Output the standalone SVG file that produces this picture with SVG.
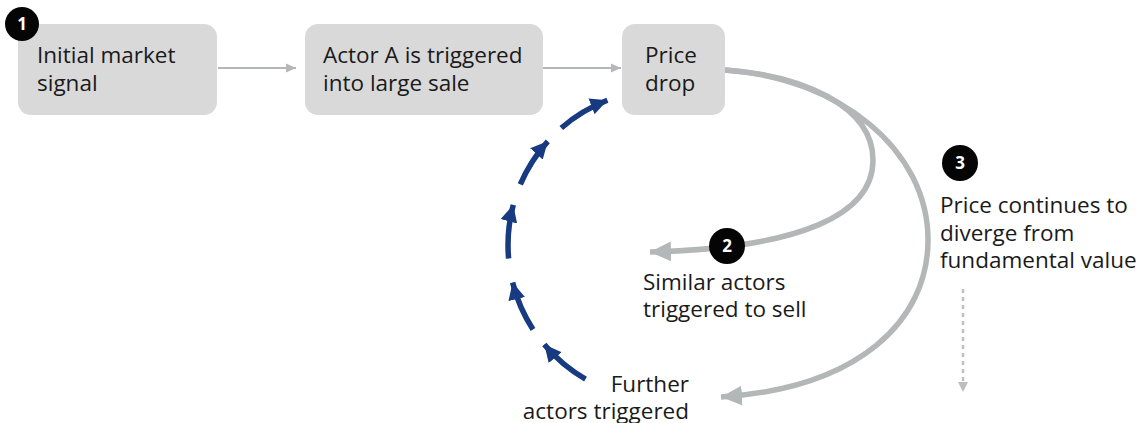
<svg xmlns="http://www.w3.org/2000/svg" width="1140" height="423" viewBox="0 0 1140 423">
<defs>
<style>
.box{fill:#d9d9d9;}
.t{font-family:"Open Sans","Noto Sans","Liberation Sans",sans-serif;font-size:22.5px;fill:#1a1a1a;}
.badge{fill:#050505;}
.bt{font-family:"Open Sans","Noto Sans","Liberation Sans",sans-serif;font-size:17px;font-weight:700;fill:#ffffff;text-anchor:middle;}
.thin{fill:none;stroke:#b4b7b7;stroke-width:2;}
.thick{fill:none;stroke:#b4b7b7;stroke-width:5.5;}
.blue{fill:none;stroke:#173a80;stroke-width:5.5;}
.dot{fill:none;stroke:#bcbfbf;stroke-width:2.5;stroke-dasharray:4 4;}
</style>
<marker id="ah-thin" markerUnits="userSpaceOnUse" markerWidth="12" markerHeight="12" refX="10" refY="6" orient="auto"><path d="M0,1.5 L10,6 L0,10.5 Z" fill="#b4b7b7"/></marker>
<marker id="ah-thick" markerUnits="userSpaceOnUse" markerWidth="24" markerHeight="24" refX="21" refY="12" orient="auto"><path d="M0,2 L21,12 L0,22 Z" fill="#b4b7b7"/></marker>
<marker id="ah-blue" markerUnits="userSpaceOnUse" markerWidth="20" markerHeight="20" refX="17" refY="10" orient="auto"><path d="M0,1.5 L17,10 L0,18.5 Z" fill="#173a80"/></marker>
<marker id="ah-dot" markerUnits="userSpaceOnUse" markerWidth="12" markerHeight="12" refX="10" refY="6" orient="auto"><path d="M0,1 L10,6 L0,11 Z" fill="#bcbfbf"/></marker>
</defs>
<rect width="1140" height="423" fill="#ffffff"/>

<g id="connectors">
<path class="thin" d="M218,68 L296,68" marker-end="url(#ah-thin)"/>
<path class="thin" d="M543,68 L621,68" marker-end="url(#ah-thin)"/>
<path class="thick" d="M725,70 C800,75 873,105 873,160 C873,215 800,248 650,252" marker-end="url(#ah-thick)"/>
<path class="thick" d="M725,70 C840,78 928,150 928,240 C928,320 860,388 721,397" marker-end="url(#ah-thick)"/>
<path class="dot" d="M963,289 L963,392" marker-end="url(#ah-dot)"/>
<g id="feedback-loop">
<path class="blue" d="M585.5,379.2 A155,155 0 0 1 544.3,344.6" marker-end="url(#ah-blue)"/>
<path class="blue" d="M533.0,329.4 A155,155 0 0 1 512.6,282.5" marker-end="url(#ah-blue)"/>
<path class="blue" d="M508.6,258.5 A155,155 0 0 1 513.3,204.9" marker-end="url(#ah-blue)"/>
<path class="blue" d="M520.3,184.4 A155,155 0 0 1 547.8,141.3" marker-end="url(#ah-blue)"/>
<path class="blue" d="M561.3,128.0 A155,155 0 0 1 607.4,100.3" marker-end="url(#ah-blue)"/>
</g>
</g>

<g id="node-initial">
<rect class="box" x="18" y="24" width="199" height="91" rx="13"/>
<text class="t" x="37" y="63">Initial market</text>
<text class="t" x="37" y="91">signal</text>
</g>
<g id="badge-1">
<circle class="badge" cx="22" cy="24" r="17"/>
<text class="bt" x="22" y="30">1</text>
</g>

<g id="node-actor-a">
<rect class="box" x="305" y="24" width="238" height="91" rx="13"/>
<text class="t" x="323" y="63">Actor A is triggered</text>
<text class="t" x="323" y="91">into large sale</text>
</g>

<g id="node-price-drop">
<rect class="box" x="622" y="24" width="103" height="91" rx="13"/>
<text class="t" x="645" y="63">Price</text>
<text class="t" x="645" y="91">drop</text>
</g>

<g id="node-similar">
<circle class="badge" cx="727" cy="246" r="18"/>
<text class="bt" x="727" y="252">2</text>
<text class="t" x="643" y="290">Similar actors</text>
<text class="t" x="643" y="317">triggered to sell</text>
</g>

<g id="node-further">
<text class="t" x="689" y="392" text-anchor="end">Further</text>
<text class="t" x="689" y="419" text-anchor="end">actors triggered</text>
</g>

<g id="node-diverge">
<circle class="badge" cx="960" cy="163" r="18"/>
<text class="bt" x="960" y="169">3</text>
<text class="t" x="940" y="213">Price continues to</text>
<text class="t" x="940" y="241">diverge from</text>
<text class="t" x="940" y="268">fundamental value</text>
</g>
</svg>
